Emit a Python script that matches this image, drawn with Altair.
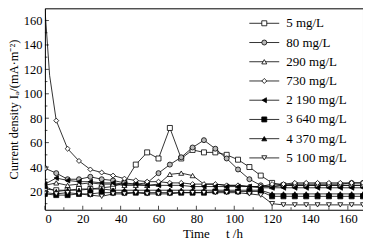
import altair as alt
import pandas as pd

times = [0, 6, 12, 18, 24, 30, 36, 42, 48, 54, 60, 66, 72, 78, 84, 90, 96,
         102, 108, 114, 120, 126, 132, 138, 144, 150, 156, 162, 168]

names = ["5 mg/L", "80 mg/L", "290 mg/L", "730 mg/L",
         "2 190 mg/L", "3 640 mg/L", "4 370 mg/L", "5 100 mg/L"]

s5 = [22, 21, 21, 22, 22, 23, 24, 27, 42, 52, 47, 72, 47, 54, 52, 52, 50,
      46, 40, 33, 27, 25, 25, 25, 25, 25, 25, 25, 25]
s80 = [39, 35, 30, 30, 32, 30, 29, 27, 26, 27, 35, 42, 48, 56, 62, 55, 47,
       38, 30, 25, 24, 25, 26, 26, 26, 26, 26, 27, 27]
s290 = [25, 27, 25, 26, 27, 26, 26, 25, 25, 25, 26, 34, 35, 33, 26, 26, 25,
        25, 24, 24, 24, 25, 25, 25, 25, 25, 25, 25, 25]
# 730 mg/L: first two readings (t = 0, 2.5 h) drawn without markers
s730_early_t = [0, 2.5]
s730_early_v = [170, 115]
s730 = [None, 78, 55, 45, 38, 35.5, 33, 30.5, 29, 28, 28, 27, 27, 26, 26, 26, 25,
        25, 24, 24, 26, 26, 27, 27, 27, 27, 27, 27, 27]
s2190 = [26, 31, 29, 28, 28, 27, 27, 26, 26, 25, 25, 25, 25, 24, 24, 24, 24,
         24, 24, 23, 23, 23, 23, 23, 23, 23, 23, 23, 23]
s3640 = [18, 17, 17, 18, 18, 19, 19, 19, 19, 19, 19, 19, 19, 19, 19, 20, 20,
         20, 20, 20, 16, 16, 16, 16, 16, 16, 16, 16, 16]
s4370 = [24, 20, 21, 21, 22, 22, 21, 21, 21, 21, 21, 21, 21, 21, 21, 21, 21,
         21, 21, 21, 18, 18, 18, 18, 18, 18, 18, 18, 18]
s5100 = [19, 18, 19, 18, 17, 16, 18, 18, 19, 18, 18, 18, 19, 19, 19, 19, 19,
         19, 18, 17, 10, 9, 9, 9, 9, 9, 9, 9, 9]

shapes = ["square", "circle", "triangle-up", "diamond",
          "triangle-left", "square", "triangle-up", "triangle-down"]
fills = ["white", "#b8b8b8", "white", "white", "black", "black", "black", "white"]

y_major = [20, 40, 60, 80, 100, 120, 140, 160]
y_minor = [10, 30, 50, 70, 90, 110, 130, 150]
x_major = [0, 20, 40, 60, 80, 100, 120, 140, 160]
x_minor = [10, 30, 50, 70, 90, 110, 130, 150]

series = [s5, s80, s290, s730, s2190, s3640, s4370, s5100]
rows = []
for name, vals in zip(names, series):
    for t, v in zip(times, vals):
        if v is not None:
            rows.append({"s": name, "t": t, "v": v, "m": 1})
for t, v in zip(s730_early_t, s730_early_v):
    rows.append({"s": names[3], "t": t, "v": v, "m": 0})
df = pd.DataFrame(rows)

W, H = 319, 202
FONT = "Liberation Serif"

xs = alt.Scale(domain=[0, 168], nice=False, zero=False)
ys = alt.Scale(domain=[5, 170], nice=False, zero=False)
shape_scale = alt.Scale(domain=names, range=shapes)
fill_scale = alt.Scale(domain=names, range=fills)

lines = alt.Chart(df).mark_line(color="black", strokeWidth=0.8, clip=True).encode(
    x=alt.X("t:Q", scale=xs, axis=alt.Axis(
        values=x_major, title="Time\u00a0\u00a0\u00a0\u00a0\u00a0t /h", ticks=False,
        domain=False, grid=False, labelPadding=3, titlePadding=2,
        titleFontWeight="normal", titleX=168)),
    y=alt.Y("v:Q", scale=ys, axis=alt.Axis(
        values=y_major, title="Current density I\u2090/(mA\u00b7m\u207b\u00b2)",
        ticks=False, domain=False, grid=False, labelPadding=3, titlePadding=3,
        titleFontWeight="normal", titleFontSize=12.5)),
    detail="s:N",
    order="t:Q",
)

points = alt.Chart(df).transform_filter("datum.m == 1").mark_point(
    filled=True, stroke="black", strokeWidth=0.8, size=25, opacity=1, clip=True
).encode(
    x=alt.X("t:Q", scale=xs, axis=None),
    y=alt.Y("v:Q", scale=ys, axis=None),
    shape=alt.Shape("s:N", scale=shape_scale, legend=None),
    fill=alt.Fill("s:N", scale=fill_scale, legend=None),
)

def ytick(vals, size):
    return alt.Chart(pd.DataFrame({"v": vals})).mark_tick(
        orient="horizontal", size=size, thickness=1, color="black"
    ).encode(y=alt.Y("v:Q", scale=ys, axis=None), x=alt.value(size / 2))

def xtick(vals, size):
    return alt.Chart(pd.DataFrame({"t": vals})).mark_tick(
        orient="vertical", size=size, thickness=1, color="black"
    ).encode(x=alt.X("t:Q", scale=xs, axis=None), y=alt.value(H - size / 2))

leg_df = pd.DataFrame({"s": names})
leg_y = alt.Y("s:N", sort=names, scale=alt.Scale(type="point", range=[15, 150], padding=0), axis=None)
leg_lines = alt.Chart(leg_df).mark_rule(color="black", strokeWidth=0.8).encode(
    y=leg_y, x=alt.value(205), x2=alt.value(235))
leg_pts = alt.Chart(leg_df).mark_point(
    filled=True, stroke="black", strokeWidth=0.8, size=25, opacity=1
).encode(
    y=leg_y, x=alt.value(220),
    shape=alt.Shape("s:N", scale=shape_scale, legend=None),
    fill=alt.Fill("s:N", scale=fill_scale, legend=None),
)
leg_txt = alt.Chart(leg_df).mark_text(
    align="left", baseline="middle", font=FONT, fontSize=13, color="black"
).encode(y=leg_y, x=alt.value(242), text="s:N")

chart = alt.layer(
    lines, points,
    ytick(y_major, 4), ytick(y_minor, 2.5), xtick(x_major, 4), xtick(x_minor, 2.5),
    leg_lines, leg_pts, leg_txt,
).resolve_scale(y="independent").resolve_axis(x="independent").properties(
    width=W, height=H,
    autosize=alt.AutoSizeParams(type="none"),
    padding={"left": 37, "top": 0, "right": 0, "bottom": 32},
    background="white",
).configure_view(
    stroke="black", strokeWidth=1
).configure_axis(
    labelFont=FONT, titleFont=FONT, labelFontSize=12.5, titleFontSize=13,
    labelColor="black", titleColor="black"
)

chart.save("out.html", embed_options={"renderer": "svg", "actions": False})
